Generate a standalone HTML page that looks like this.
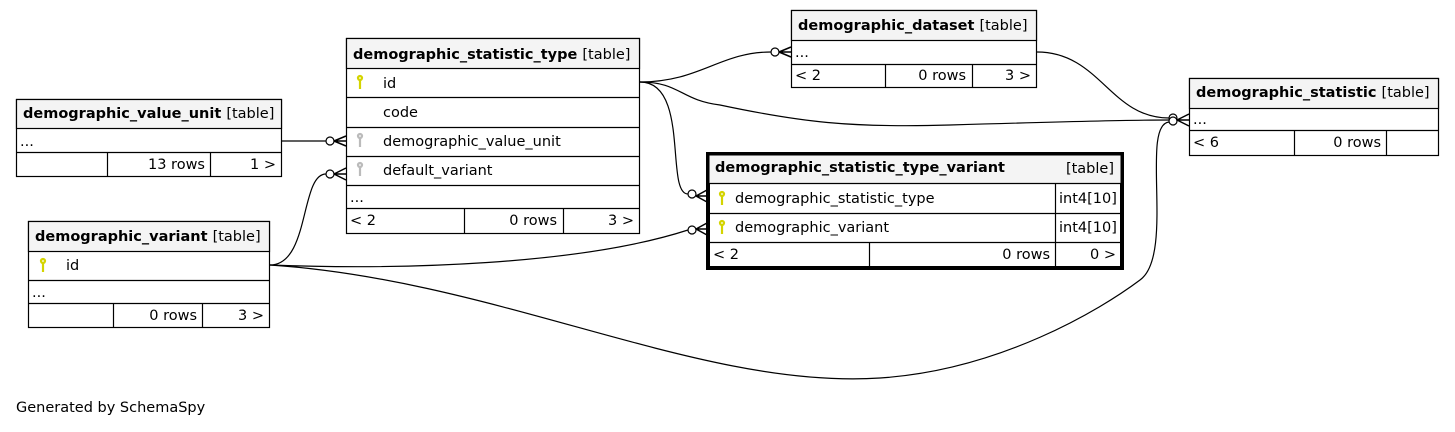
<!DOCTYPE html>
<html><head><meta charset="utf-8"><style>
body{margin:0;background:#fff;width:1455px;height:427px;overflow:hidden}
text{font-family:"DejaVu Sans","Liberation Sans",sans-serif;font-size:14.5px;fill:#000}
.b{font-weight:bold}
</style></head><body>
<svg width="1455" height="427" xmlns="http://www.w3.org/2000/svg">
<g fill="none" stroke="#000" stroke-width="1.2">
<path d="M640,82 C700,82 720,52 771,52"/>
<path d="M640,82 C680,82 680,100 720,105 C800,122 850,128 950,125 C1050,122 1120,120 1169,120"/>
<path d="M1037,52 C1100,52 1110,118 1169,118"/>
<path d="M640,82 C690,82 665,194 688,194"/>
<path d="M282,141 L326,141"/>
<path d="M270,265 C310,265 300,174 326,174"/>
<path d="M270,265 C400,270 580,265 688,230"/>
<path d="M270,265 C500,280 700,390 880,378 C1000,370 1100,310 1140,280 C1175,255 1140,125 1169,122"/>
</g>
<g fill="#fff" stroke="#000" stroke-width="1.2">
<circle cx="775" cy="52" r="4"/><circle cx="1173" cy="118" r="4"/><circle cx="1173" cy="121" r="4"/>
<circle cx="692" cy="194" r="4"/><circle cx="692" cy="230" r="4"/>
<circle cx="330" cy="141" r="4"/><circle cx="330" cy="174" r="4"/>
</g>
<g stroke="#000" stroke-width="1.5" fill="none">
<path d="M779,52 L791,47 M779,52 L791,52 M779,52 L791,57"/>
<path d="M1177,120 L1189,114 M1177,120 L1189,120 M1177,120 L1189,126"/>
<path d="M696,196 L707,190 M696,196 L707,196 M696,196 L707,202"/>
<path d="M696,229 L707,223 M696,229 L707,229 M696,229 L707,235"/>
<path d="M334,141 L346,136 M334,141 L346,141 M334,141 L346,146"/>
<path d="M334,174 L346,168 M334,174 L346,174 M334,174 L346,180"/>
</g>
<g stroke="#000" stroke-width="1.2" fill="none">
<rect x="346.5" y="38.5" width="293" height="195" fill="#fff"/>
<rect x="346.5" y="38.5" width="293" height="30" fill="#f4f4f4"/>
<path d="M346,97.5H640M346,127.5H640M346,156.5H640M346,185.5H640M346,208.5H640M464.5,208V233M563.5,208V233"/>
</g>
<text x="353" y="59" class="b">demographic_statistic_type <tspan font-weight="normal">[table]</tspan></text>
<text x="383" y="88">id</text><text x="383" y="117">code</text><text x="383" y="146">demographic_value_unit</text><text x="383" y="175">default_variant</text>
<text x="350" y="202">...</text><text x="350" y="225">&lt; 2</text><text x="557" y="225" text-anchor="end">0 rows</text><text x="634" y="225" text-anchor="end">3 &gt;</text>
<g stroke="#000" stroke-width="1.2" fill="none">
<rect x="791.5" y="10.5" width="245" height="77" fill="#fff"/>
<rect x="791.5" y="10.5" width="245" height="30" fill="#f4f4f4"/>
<path d="M791,64.5H1037M885.5,64V88M972.5,64V88"/>
</g>
<text x="798" y="30" class="b">demographic_dataset <tspan font-weight="normal">[table]</tspan></text>
<text x="795" y="57">...</text><text x="795" y="80">&lt; 2</text><text x="966" y="80" text-anchor="end">0 rows</text><text x="1031" y="80" text-anchor="end">3 &gt;</text>
<g stroke="#000" stroke-width="1.2" fill="none">
<rect x="1189.5" y="78.5" width="249" height="77" fill="#fff"/>
<rect x="1189.5" y="78.5" width="249" height="30" fill="#f4f4f4"/>
<path d="M1189,130.5H1439M1294.5,130V156M1386.5,130V156"/>
</g>
<text x="1196" y="97" class="b">demographic_statistic <tspan font-weight="normal">[table]</tspan></text>
<text x="1193" y="124">...</text><text x="1193" y="147">&lt; 6</text><text x="1381" y="147" text-anchor="end">0 rows</text>
<g stroke="#000" stroke-width="1.2" fill="none">
<rect x="16.5" y="99.5" width="265" height="77" fill="#fff"/>
<rect x="16.5" y="99.5" width="265" height="29" fill="#f4f4f4"/>
<path d="M16,152.5H282M107.5,152V177M210.5,152V177"/>
</g>
<text x="23" y="118" class="b">demographic_value_unit <tspan font-weight="normal">[table]</tspan></text>
<text x="20" y="146">...</text><text x="205" y="169" text-anchor="end">13 rows</text><text x="276" y="169" text-anchor="end">1 &gt;</text>
<g stroke="#000" stroke-width="1.2" fill="none">
<rect x="28.5" y="221.5" width="241" height="106" fill="#fff"/>
<rect x="28.5" y="221.5" width="241" height="30" fill="#f4f4f4"/>
<path d="M28,280.5H270M28,303.5H270M113.5,303V328M202.5,303V328"/>
</g>
<text x="35" y="241" class="b">demographic_variant <tspan font-weight="normal">[table]</tspan></text>
<text x="66" y="270">id</text><text x="32" y="297">...</text><text x="197" y="320" text-anchor="end">0 rows</text><text x="264" y="320" text-anchor="end">3 &gt;</text>
<g stroke="#000" stroke-width="1.2" fill="none">
<rect x="708.5" y="154.5" width="413" height="113" fill="#fff" stroke-width="3"/>
<rect x="709.5" y="155.5" width="411" height="28" fill="#f4f4f4" stroke="none"/>
<path d="M708,183.5H1122M708,213.5H1122M708,242.5H1122M1055.5,183V268M869.5,242V268"/>
<rect x="707.5" y="153.5" width="415" height="115" stroke-width="3"/>
</g>
<text x="715" y="172" class="b">demographic_statistic_type_variant</text><text x="1114" y="173" text-anchor="end">[table]</text>
<text x="735" y="203">demographic_statistic_type</text><text x="1059" y="203">int4[10]</text>
<text x="735" y="232">demographic_variant</text><text x="1059" y="232">int4[10]</text>
<text x="713" y="259">&lt; 2</text><text x="1050" y="259" text-anchor="end">0 rows</text><text x="1116" y="259" text-anchor="end">0 &gt;</text>
<g stroke-width="2.2" fill="none">
<g stroke="#d4d400"><circle cx="360" cy="78" r="2"/><path d="M360,80V89"/><circle cx="43" cy="261" r="2"/><path d="M43,263V272"/><circle cx="722" cy="194" r="2"/><path d="M722,196V205"/><circle cx="722" cy="223" r="2"/><path d="M722,225V234"/></g>
<g stroke="#bbb"><circle cx="360" cy="136" r="2"/><path d="M360,138V147"/><circle cx="360" cy="165" r="2"/><path d="M360,167V176"/></g>
</g>
<text x="16" y="412">Generated by SchemaSpy</text>
</svg>
</body></html>
